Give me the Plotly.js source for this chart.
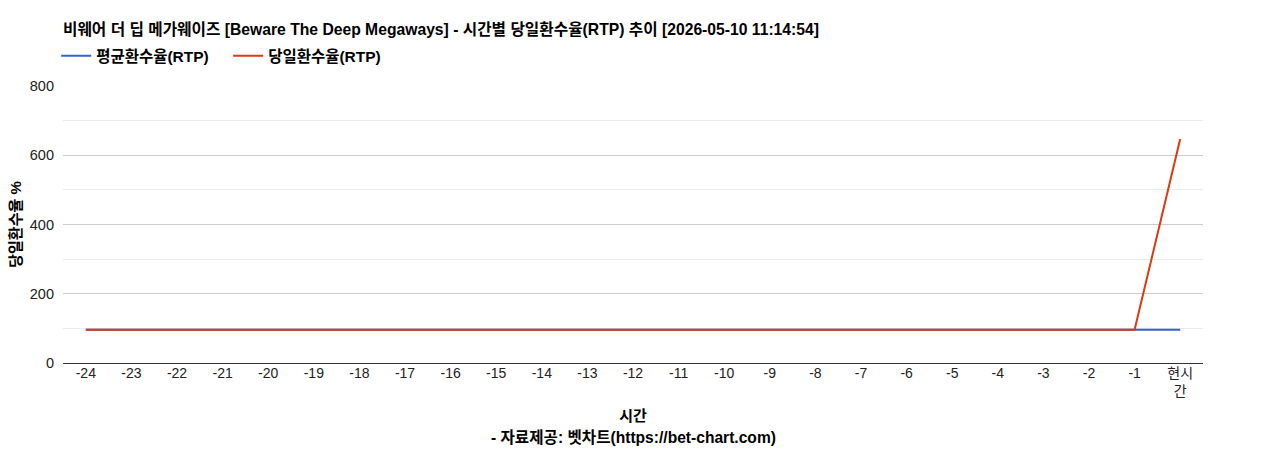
<!DOCTYPE html>
<html>
<head>
<meta charset="utf-8">
<script src="https://cdn.plot.ly/plotly-3.0.1.min.js"></script>
<style>
  html, body { margin: 0; padding: 0; background: #fff; }
  #chart { width: 1268px; height: 450px; }
</style>
</head>
<body>
<div id="chart"></div>
<script>
  // Hours before now, then the current hour.
  const hours = ["-24", "-23", "-22", "-21", "-20", "-19", "-18", "-17", "-16", "-15",
    "-14", "-13", "-12", "-11", "-10", "-9", "-8", "-7", "-6", "-5", "-4", "-3", "-2", "-1", "현시간"];
  const hourLabels = ["-24", "-23", "-22", "-21", "-20", "-19", "-18", "-17", "-16", "-15",
    "-14", "-13", "-12", "-11", "-10", "-9", "-8", "-7", "-6", "-5", "-4", "-3", "-2", "-1", "현시<br>간"];

  const avgRtp = [96, 96, 96, 96, 96, 96, 96, 96, 96, 96, 96, 96, 96, 96, 96, 96,
    96, 96, 96, 96, 96, 96, 96, 96, 96];
  const dayRtp = [96, 96, 96, 96, 96, 96, 96, 96, 96, 96, 96, 96, 96, 96, 96, 96,
    96, 96, 96, 96, 96, 96, 96, 96, 647];

  const FONT = "Arial, 'Liberation Sans', 'Noto Sans CJK KR', sans-serif";
  const BLUE = "#3366cc";
  const RED = "#dc3912";

  const traces = [
    {
      x: hours, y: avgRtp, name: "<b>평균환수율(RTP)</b>",
      type: "scatter", mode: "lines",
      line: { color: BLUE, width: 2 },
    },
    {
      x: hours, y: dayRtp, name: "<b>당일환수율(RTP)</b>",
      type: "scatter", mode: "lines",
      line: { color: RED, width: 2 },
    },
  ];

  const layout = {
    width: 1268,
    height: 450,
    margin: { l: 63, r: 65, t: 86, b: 87 },
    paper_bgcolor: "#fff",
    plot_bgcolor: "#fff",
    font: { family: FONT, size: 14, color: "#222" },
    title: {
      text: "<b>비웨어 더 딥 메가웨이즈 [Beware The Deep Megaways] - 시간별 당일환수율(RTP) 추이 [2026-05-10 11:14:54]</b>",
      font: { family: FONT, size: 15.7, color: "#000" },
      xref: "paper", x: 0, xanchor: "left",
      yref: "container", y: 1 - 30 / 450, yanchor: "middle",
    },
    showlegend: true,
    legend: {
      orientation: "h",
      x: -0.006, xanchor: "left",
      y: 1.108, yanchor: "middle",
      font: { family: FONT, size: 15.5, color: "#000" },
      itemwidth: 30,
      entrywidth: 127,
      traceorder: "normal",
    },
    xaxis: {
      type: "category",
      range: [-0.5, 24.5],
      tickvals: hours,
      ticktext: hourLabels,
      showgrid: false,
      zeroline: false,
      showline: false,
      ticks: "",
      tickfont: { family: FONT, size: 14, color: "#222" },
      title: {
        text: "<b>시간</b>",
        font: { family: FONT, size: 15, color: "#000" },
        standoff: 12,
      },
    },
    yaxis: {
      range: [0, 800],
      dtick: 200,
      tick0: 0,
      showgrid: true,
      gridcolor: "#cccccc",
      gridwidth: 1,
      zeroline: true,
      zerolinecolor: "#333333",
      zerolinewidth: 1,
      ticks: "",
      ticklabelstandoff: 8,
      tickfont: { family: FONT, size: 14.5, color: "#222" },
      minor: { dtick: 100, showgrid: true, gridcolor: "#ebebeb", gridwidth: 1 },
      title: {
        text: "<b>당일환수율 %</b>",
        font: { family: FONT, size: 15, color: "#000" },
        standoff: 4,
      },
    },
    annotations: [
      {
        text: "<b>- 자료제공: 벳차트(https://bet-chart.com)</b>",
        xref: "paper", yref: "paper",
        x: 0.5, xanchor: "center",
        y: (363 - 437) / 277, yanchor: "middle",
        showarrow: false,
        font: { family: FONT, size: 15.6, color: "#000" },
      },
    ],
  };

  Plotly.newPlot("chart", traces, layout, { displayModeBar: false, responsive: false });
</script>
</body>
</html>
